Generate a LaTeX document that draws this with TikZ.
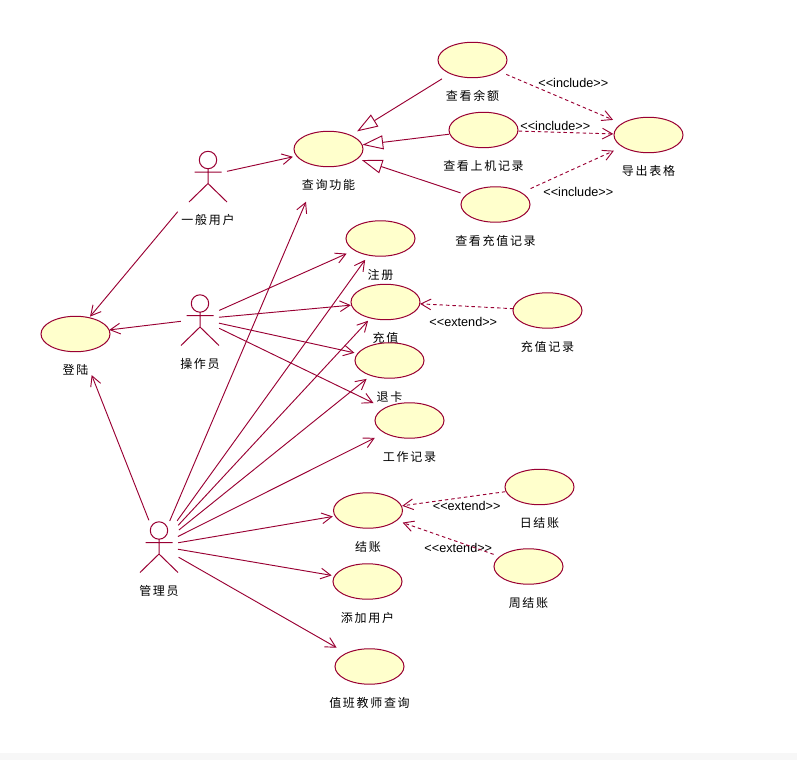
\documentclass[tikz,border=0pt]{standalone}
\usepackage{fontspec}
\setmainfont{Liberation Sans}
\newfontfamily\cjkfont[LetterSpace=14]{Noto Sans CJK SC}
\usetikzlibrary{arrows.meta, positioning, calc, shapes.geometric}
\definecolor{RoseRed}{rgb}{0.6, 0, 0.2}
\definecolor{CaseYellow}{rgb}{1, 1, 0.8}

\begin{document}
\begin{tikzpicture}[x=0.75pt, y=-0.75pt,
    usecase/.style={ellipse, draw=RoseRed, line width=0.75pt, fill=CaseYellow, inner sep=0pt,
        minimum width=51.75pt, minimum height=26.6pt},
    casetext/.style={font=\cjkfont\fontsize{9pt}{10pt}\selectfont, inner sep=0pt,
        text height=8pt, text depth=1pt, below=8.8pt of #1},
    actor/.style={minimum width=28.5pt, minimum height=39.75pt, inner sep=0pt},
    actortext/.style={font=\cjkfont\fontsize{9pt}{10pt}\selectfont, inner sep=0pt,
        text height=8pt, text depth=1pt, below=8.6pt of #1},
    stereo/.style={font=\fontsize{9.5pt}{10pt}\selectfont, inner sep=0pt},
    assoc/.style={draw=RoseRed, line width=0.7pt, -{Straight Barb[length=7.5pt, width=8pt]}},
    gener/.style={draw=RoseRed, line width=0.7pt, -{Triangle[open, length=15.5pt, width=10.5pt]}},
    depend/.style={draw=RoseRed, line width=0.7pt, dash pattern=on 2.6pt off 2.2pt,
        -{Straight Barb[length=7.5pt, width=8pt]}}]

\useasboundingbox (0,0) rectangle (797,760);
\fill[black!3] (0,753) rectangle (797,760);

% actors
\node[actor] (usr) at (208,175.5) {};
\node[actor] (opr) at (200,319) {};
\node[actor] (adm) at (159,546) {};
\node[actortext=usr] (usrtext) {一般用户};
\node[actortext=opr] (oprtext) {操作员};
\node[actortext=adm] (admtext) {管理员};
\foreach \who in {usr, opr, adm}
    \draw[RoseRed, line width=0.75pt]
        ($(\who)+(0,-15.5)$) circle[radius=8.7]
        ($(\who)+(0,-6.8)$) -- ($(\who)+(0,8)$)
        ($(\who)+(-13.5,-3.5)$) -- ($(\who)+(13.5,-3.5)$)
        ($(\who)+(-19,26.5)$) -- ($(\who)+(0,8)$) -- ($(\who)+(19,26.5)$);

% use cases
\node[usecase] (login) at (75.5,334) {};
\node[casetext=login] (logintext) {登陆};
\node[usecase] (query) at (328.5,149) {};
\node[casetext=query] (querytext) {查询功能};
\node[usecase] (balance) at (472.5,60) {};
\node[casetext=balance] (balancetext) {查看余额};
\node[usecase] (online) at (483.5,130) {};
\node[casetext=online] (onlinetext) {查看上机记录};
\node[usecase] (rechargelog) at (495.5,204.5) {};
\node[casetext=rechargelog] (rechargelogtext) {查看充值记录};
\node[usecase] (export) at (648.5,135) {};
\node[casetext=export] (exporttext) {导出表格};
\node[usecase] (register) at (380.5,238.5) {};
\node[casetext=register] (registertext) {注册};
\node[usecase] (recharge) at (385.5,302) {};
\node[casetext=recharge] (rechargetext) {充值};
\node[usecase] (refund) at (389.5,360.5) {};
\node[casetext=refund] (refundtext) {退卡};
\node[usecase] (worklog) at (409.5,420.5) {};
\node[casetext=worklog] (worklogtext) {工作记录};
\node[usecase] (record) at (547.5,310.5) {};
\node[casetext=record] (recordtext) {充值记录};
\node[usecase] (checkout) at (368,510.5) {};
\node[casetext=checkout] (checkouttext) {结账};
\node[usecase] (daily) at (539.5,487) {};
\node[casetext=daily] (dailytext) {日结账};
\node[usecase] (weekly) at (528.5,566.5) {};
\node[casetext=weekly] (weeklytext) {周结账};
\node[usecase] (adduser) at (367.5,581.5) {};
\node[casetext=adduser] (addusertext) {添加用户};
\node[usecase] (duty) at (369.5,666.5) {};
\node[casetext=duty] (dutytext) {值班教师查询};

% stereotypes
\node[stereo] (inc1) at (573.3,83.3) {<{}<include>{}>};
\node[stereo] (inc2) at (555.3,125.7) {<{}<include>{}>};
\node[stereo] (inc3) at (578.3,192.3) {<{}<include>{}>};
\node[stereo] (ext1) at (463.3,322.3) {<{}<extend>{}>};
\node[stereo] (ext2) at (466.7,505.7) {<{}<extend>{}>};
\node[stereo] (ext3) at (458.3,548.3) {<{}<extend>{}>};

% general user and operator
\draw[assoc, shorten <=14.6pt, shorten >=27.3pt] (usr.center) -- (query.center);
\draw[assoc, shorten <=35.4pt, shorten >=17pt] (usr.center) -- (login.center);
\draw[assoc, shorten <=14.4pt, shorten >=25.5pt] (opr.center) -- (login.center);
\draw[assoc, shorten <=15.8pt, shorten >=27.8pt] (opr.center) -- (register.center);
\draw[assoc, shorten <=14.3pt, shorten >=26.1pt] (opr.center) -- (recharge.center);
\draw[assoc, shorten <=14.6pt, shorten >=26.9pt] (opr.center) -- (refund.center);
\draw[assoc, shorten <=16pt, shorten >=30pt] (opr.center) -- (worklog.center);

% administrator
\draw[assoc, shorten <=20.7pt, shorten >=33.1pt] (adm.center) -- (login.center);
\draw[assoc, shorten <=20.4pt, shorten >=43pt] (adm.center) -- (query.center);
\draw[assoc, shorten <=23.3pt, shorten >=19.7pt] (adm.center) -- (register.center);
\draw[assoc, shorten <=21.2pt, shorten >=19.2pt] (adm.center) -- (recharge.center);
\draw[assoc, shorten <=19.1pt, shorten >=22pt] (adm.center) -- (refund.center);
\draw[assoc, shorten <=15.9pt, shorten >=29.1pt] (adm.center) -- (worklog.center);
\draw[assoc, shorten <=14.5pt, shorten >=26.8pt] (adm.center) -- (checkout.center);
\draw[assoc, shorten <=14.4pt, shorten >=27.3pt] (adm.center) -- (adduser.center);
\draw[assoc, shorten <=16.9pt, shorten >=28.4pt] (adm.center) -- (duty.center);

% generalisation
\draw[gener, shorten <=26.9pt, shorten >=25.2pt] (balance.center) -- (query.center);
\draw[gener, shorten <=26.2pt, shorten >=25.7pt] (online.center) -- (query.center);
\draw[gener, shorten <=27.6pt, shorten >=26.3pt] (rechargelog.center) -- (query.center);

% include and extend
\draw[depend, shorten <=27.5pt, shorten >=28.9pt] (balance.center) -- (export.center);
\draw[depend, shorten <=26.4pt, shorten >=26.4pt] (online.center) -- (export.center);
\draw[depend, shorten <=28.9pt, shorten >=28.5pt] (rechargelog.center) -- (export.center);
\draw[depend, shorten <=25.7pt, shorten >=25.9pt] (record.center) -- (recharge.center);
\draw[depend, shorten <=25.9pt, shorten >=25.9pt] (daily.center) -- (checkout.center);
\draw[depend, shorten <=27.7pt, shorten >=27.5pt] (weekly.center) -- (checkout.center);

\end{tikzpicture}
\end{document}
